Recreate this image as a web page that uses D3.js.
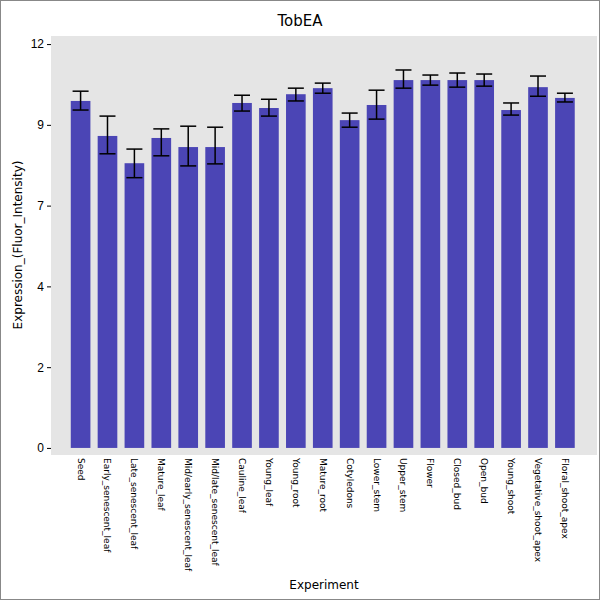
<!DOCTYPE html>
<html>
<head>
<script src="https://d3js.org/d3.v7.min.js"></script>
<style>body{margin:0}</style>
</head>
<body>
<div id="chart"></div>
<script>
const categories = ["Seed","Early_senescent_leaf","Late_senescent_leaf","Mature_leaf","Mid/early_senescent_leaf","Mid/late_senescent_leaf","Cauline_leaf","Young_leaf","Young_root","Mature_root","Cotyledons","Lower_stem","Upper_stem","Flower","Closed_bud","Open_bud","Young_shoot","Vegetative_shoot_apex","Floral_shoot_apex"];
const values = [10.31,9.27,8.46,9.21,8.94,8.94,10.25,10.10,10.51,10.69,9.74,10.19,10.93,10.93,10.93,10.93,10.04,10.72,10.40];
const errLow = [10.04,8.74,8.03,8.68,8.38,8.44,10.01,9.86,10.31,10.54,9.53,9.77,10.69,10.78,10.72,10.75,9.89,10.45,10.28];
const errHigh = [10.60,9.86,8.88,9.48,9.56,9.53,10.48,10.36,10.69,10.84,9.95,10.63,11.23,11.08,11.14,11.11,10.25,11.05,10.54];
const yTicks = [0,2.4,4.8,7.2,9.6,12];

const svg = d3.select("#chart").append("svg").attr("width",600).attr("height",600);
svg.append("rect").attr("x",0.5).attr("y",0.5).attr("width",599).attr("height",599).attr("fill","#fff").attr("stroke","#888");
const pLeft = 51, pRight = 597, pTop = 36, pBottom = 455;
svg.append("rect").attr("x",pLeft).attr("y",pTop).attr("width",pRight-pLeft).attr("height",pBottom-pTop).attr("fill","#e5e5e5");

const x = d3.scaleBand().domain(categories).range([63.5,582]).padding(0.27);
const y = d3.scaleLinear().domain([-0.21,12.24]).range([pBottom,pTop]);

const g = svg.append("g").attr("font-family","DejaVu Sans");
const ya = g.append("g").attr("transform",`translate(${pLeft},0)`)
  .call(d3.axisLeft(y).tickValues(yTicks).tickSize(4).tickFormat(d => Math.floor(d)));
ya.select(".domain").remove();
ya.selectAll("text").attr("font-size",12).attr("fill","#000");

g.selectAll(".bar").data(categories).enter().append("rect")
  .attr("x",d=>x(d)).attr("width",x.bandwidth())
  .attr("y",(d,i)=>y(values[i])).attr("height",(d,i)=>y(0)-y(values[i]))
  .attr("fill","#4b45b5");

const eb = g.selectAll(".err").data(categories).enter().append("g").attr("stroke","#000").attr("stroke-width",1.5);
eb.append("line").attr("x1",d=>x(d)+x.bandwidth()/2).attr("x2",d=>x(d)+x.bandwidth()/2)
  .attr("y1",(d,i)=>y(errLow[i])).attr("y2",(d,i)=>y(errHigh[i]));
eb.append("line").attr("x1",d=>x(d)+x.bandwidth()/2-8).attr("x2",d=>x(d)+x.bandwidth()/2+8)
  .attr("y1",(d,i)=>y(errLow[i])).attr("y2",(d,i)=>y(errLow[i]));
eb.append("line").attr("x1",d=>x(d)+x.bandwidth()/2-8).attr("x2",d=>x(d)+x.bandwidth()/2+8)
  .attr("y1",(d,i)=>y(errHigh[i])).attr("y2",(d,i)=>y(errHigh[i]));

g.selectAll(".xl").data(categories).enter().append("text")
  .attr("transform",d=>`translate(${x(d)+x.bandwidth()/2-3},458) rotate(90)`)
  .attr("font-size",9).text(d=>d);

g.append("text").attr("x",300).attr("y",26).attr("text-anchor","middle").attr("font-size",15).text("TobEA");
g.append("text").attr("x",324).attr("y",589).attr("text-anchor","middle").attr("font-size",12).text("Experiment");
g.append("text").attr("transform","translate(22,245) rotate(-90)").attr("text-anchor","middle").attr("font-size",12).text("Expression_(Fluor_Intensity)");
</script>
</body>
</html>
